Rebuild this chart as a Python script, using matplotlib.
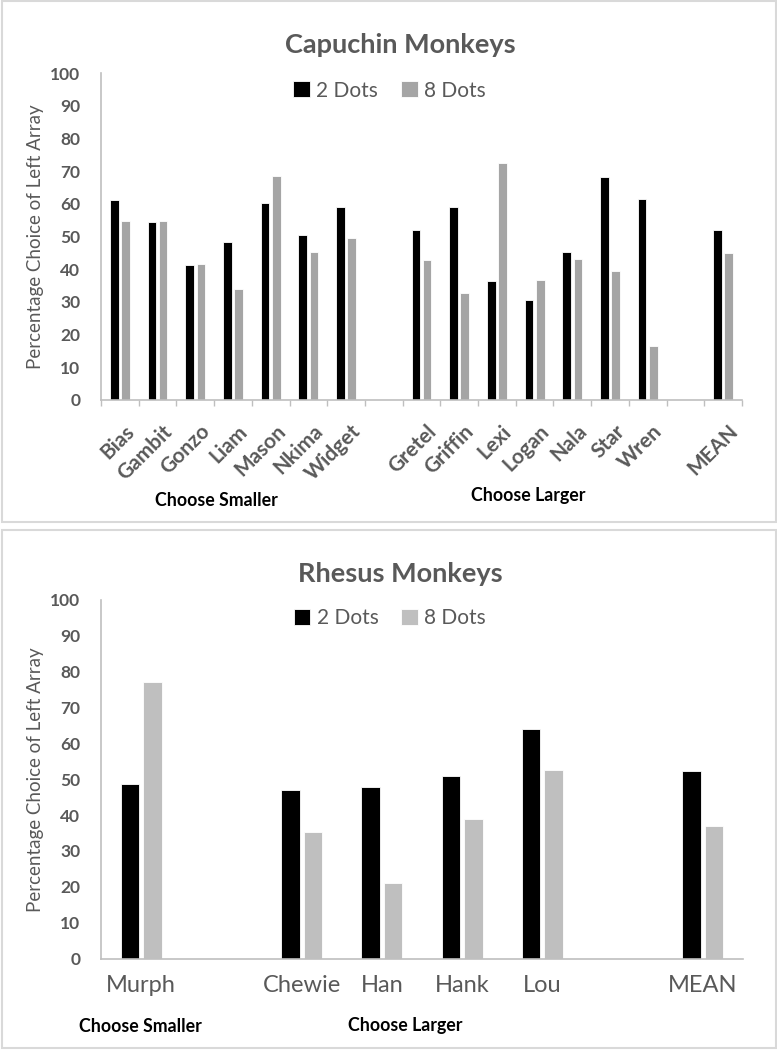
import matplotlib
matplotlib.use("Agg")
import matplotlib.pyplot as plt
from matplotlib.patches import Rectangle
import numpy as np

# --- data ---
cap_names = ["Bias", "Gambit", "Gonzo", "Liam", "Mason", "Nkima", "Widget", "",
             "Gretel", "Griffin", "Lexi", "Logan", "Nala", "Star", "Wren", "", "MEAN"]
cap_2dots = [61.1, 54.5, 41.2, 48.3, 60.2, 50.4, 59.0, None,
             52.1, 59.0, 36.5, 30.6, 45.4, 68.4, 61.4, None, 52.1]
cap_8dots = [54.8, 54.8, 41.5, 34.0, 68.7, 45.4, 49.5, None,
             42.7, 32.7, 72.5, 36.8, 43.2, 39.4, 16.6, None, 45.1]

rh_names = ["Murph", "", "Chewie", "Han", "Hank", "Lou", "", "MEAN"]
rh_2dots = [48.6, None, 46.9, 47.8, 50.8, 64.0, None, 52.4]
rh_8dots = [77.2, None, 35.4, 21.0, 38.9, 52.7, None, 36.9]

yticks = list(range(0, 101, 10))

TXT = "#595959"
AXC = "#BFBFBF"
FONT = ["Lato", "DejaVu Sans"]

W, H = 777, 1050
fig = plt.figure(figsize=(W / 100, H / 100), dpi=100)
fig.patch.set_facecolor("white")


def px_axes(x0, y0, x1, y1):
    # pixel box (top-left origin) -> figure axes
    return fig.add_axes([x0 / W, 1 - y1 / H, (x1 - x0) / W, (y1 - y0) / H])


def panel_border(y0, y1):
    fig.patches.append(Rectangle((1.5 / W, 1 - y1 / H), (W - 3) / W, (y1 - y0) / H,
                                 transform=fig.transFigure, fill=False,
                                 edgecolor="#D9D9D9", linewidth=1.5))


def bar_panel(ax, names, s2, s8, gray, bw, off, leg_y):
    idx = np.arange(len(names))
    k2 = [i for i in idx if s2[i] is not None]
    k8 = [i for i in idx if s8[i] is not None]
    ax.bar([i - off for i in k2], [s2[i] for i in k2], bw, color="black",
           edgecolor="white", linewidth=0.6, label="2 Dots")
    ax.bar([i + off for i in k8], [s8[i] for i in k8], bw, color=gray,
           edgecolor="white", linewidth=0.6, label="8 Dots")
    ax.set_xlim(-0.5, len(names) - 0.5)
    ax.set_ylim(0, 100)
    ax.set_yticks(yticks)
    ax.set_yticklabels([str(t) for t in yticks], color=TXT, fontsize=12.5,
                       fontweight="bold", family=FONT)
    for s in ["top", "right"]:
        ax.spines[s].set_visible(False)
    for s in ["left", "bottom"]:
        ax.spines[s].set_color(AXC)
        ax.spines[s].set_linewidth(1.2)
    ax.tick_params(axis="y", length=0, pad=15)
    ax.set_ylabel("Percentage Choice of Left Array", color=TXT, fontsize=13.5,
                  family=FONT)
    ax.yaxis.set_label_coords(-57 / (ax.get_position().width * W), 0.5)
    leg = ax.legend(loc="upper center", bbox_to_anchor=(0.45, leg_y), ncol=2,
                    frameon=False, handlelength=0.8, handleheight=0.8,
                    handletextpad=0.3, columnspacing=1.1,
                    prop={"family": FONT, "size": 15})
    for t in leg.get_texts():
        t.set_color(TXT)
    return idx


# ---------- Capuchin ----------
panel_border(1, 522)
ax1 = px_axes(101, 73.3, 742, 400)
idx = bar_panel(ax1, cap_names, cap_2dots, cap_8dots, "#A5A5A5", 0.23, 0.148, 1.035)
ax1.set_xticks(np.arange(len(cap_names) + 1) - 0.5)
ax1.set_xticklabels([])
ax1.tick_params(axis="x", length=4, color=AXC, width=1)
for i, n in enumerate(cap_names):
    if n:
        ax1.text(i + 0.12, -6.5, n, rotation=45, ha="right", va="top",
                 rotation_mode="anchor", color=TXT, fontsize=15,
                 fontweight="bold", family=FONT)
fig.text(400 / W, 1 - 45 / H, "Capuchin Monkeys", ha="center", va="center",
         color=TXT, fontsize=19.5, fontweight="bold", family=FONT)
fig.text(216 / W, 1 - 501 / H, "Choose Smaller", ha="center", va="center",
         color="black", fontsize=12.8, fontweight="bold", family=FONT)
fig.text(528 / W, 1 - 495 / H, "Choose Larger", ha="center", va="center",
         color="black", fontsize=12.8, fontweight="bold", family=FONT)

# ---------- Rhesus ----------
panel_border(530, 1048)
ax2 = px_axes(101, 600, 743, 958.5)
idx2 = bar_panel(ax2, rh_names, rh_2dots, rh_8dots, "#BFBFBF", 0.23, 0.14, 1.03)
ax2.set_xticks(idx2)
ax2.set_xticklabels(rh_names, color=TXT, fontsize=17, family=FONT)
ax2.tick_params(axis="x", length=0, pad=12)
fig.text(400 / W, 1 - 574 / H, "Rhesus Monkeys", ha="center", va="center",
         color=TXT, fontsize=19.5, fontweight="bold", family=FONT)
fig.text(140 / W, 1 - 1026 / H, "Choose Smaller", ha="center", va="center",
         color="black", fontsize=12.8, fontweight="bold", family=FONT)
fig.text(405 / W, 1 - 1026 / H, "Choose Larger", ha="center", va="center",
         color="black", fontsize=12.8, fontweight="bold", family=FONT)

fig.savefig("out.png", dpi=100, facecolor="white")
